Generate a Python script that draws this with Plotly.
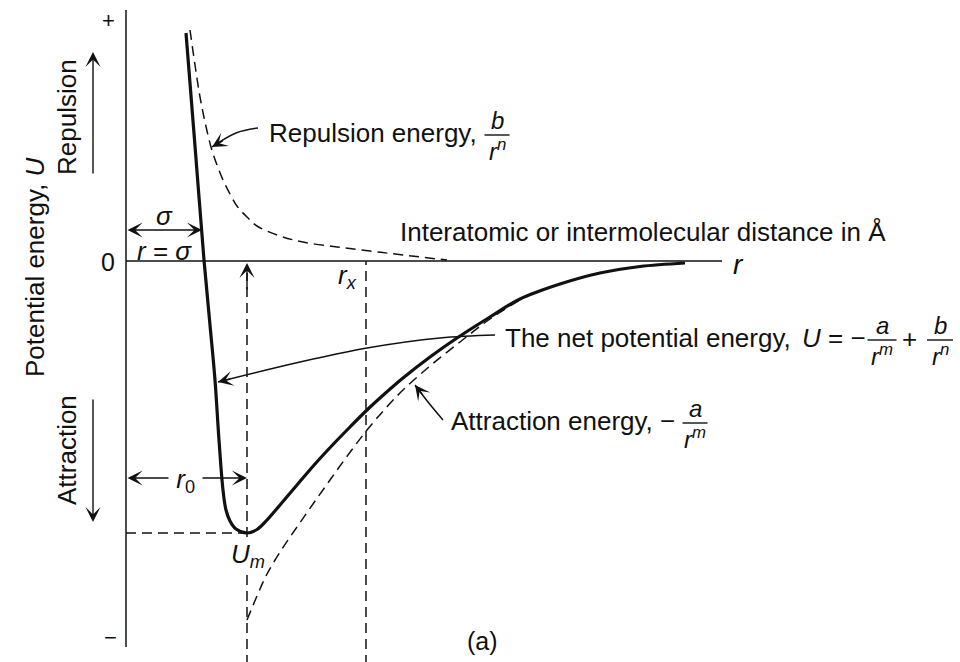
import math
import plotly.graph_objects as go

# ---- curves (r in arbitrary distance units, U in arbitrary energy units) ----
# net potential energy U = -a/r^m + b/r^n
r_net = [0.60, 0.69, 0.78, 0.84, 0.89, 0.93, 0.97, 1.00, 1.04, 1.10, 1.21, 1.31,
         1.41, 1.54, 1.71, 1.89, 2.07, 2.24, 2.41, 2.59, 2.77, 3.04, 3.31, 3.64,
         3.94, 4.34, 4.74, 5.14, 5.59]
u_net = [2.28, 1.15, 0.01, -0.64, -1.19, -1.79, -2.29, -2.49, -2.60, -2.68, -2.72, -2.685,
         -2.59, -2.44, -2.24, -2.03, -1.835, -1.66, -1.49, -1.325, -1.17, -0.96, -0.77, -0.56,
         -0.38, -0.23, -0.12, -0.055, -0.02]

# repulsion term b/r^n
r_rep = [0.64, 0.69, 0.74, 0.79, 0.85, 0.91, 0.97, 1.04, 1.11, 1.21, 1.31, 1.54,
         1.77, 2.11, 2.44, 2.77, 3.21]
u_rep = [2.31, 1.96, 1.64, 1.39, 1.14, 0.96, 0.81, 0.67, 0.55, 0.44, 0.35, 0.25,
         0.19, 0.14, 0.10, 0.06, 0.01]

# attraction term -a/r^m
r_att = [1.21, 1.31, 1.41, 1.56, 1.71, 1.87, 2.04, 2.22, 2.41, 2.59, 2.77, 3.04,
         3.34, 3.64, 3.94]
u_att = [-3.59, -3.35, -3.13, -2.88, -2.66, -2.43, -2.19, -1.94, -1.69, -1.48, -1.29, -1.05,
         -0.81, -0.58, -0.39]

# characteristic quantities
sigma = 0.76      # distance where U crosses zero
r0 = 1.21         # equilibrium spacing
u_min = -2.72     # minimum energy U_m
rx = 2.40         # marked distance r_x
r_end = 5.96      # end of the r axis
u_top, u_bot = 2.51, -3.86

# leader lines from the labels to the curves
lead_rep_x = [1.32, 1.10, 0.86]
lead_rep_y = [1.33, 1.28, 1.14]
lead_net_x = [3.69, 3.14, 2.41, 1.74, 0.92]
lead_net_y = [-0.74, -0.77, -0.87, -1.01, -1.21]
lead_att_x = [3.17, 3.02, 2.89]
lead_att_y = [-1.59, -1.41, -1.24]

BLACK = "#111111"
FONT = "Liberation Sans, Arial, Helvetica, sans-serif"
FS = 26
FS_FRAC = 24
DASH = "10px,6px"

fig = go.Figure()


def line(x, y, width=1.5, dash="solid", spline=False):
    fig.add_trace(go.Scatter(
        x=x, y=y, mode="lines", hoverinfo="skip", showlegend=False,
        line=dict(color=BLACK, width=width, dash=dash,
                  shape="spline" if spline else "linear", smoothing=1.0)))


# axes
line([0, 0], [u_bot, u_top])
line([0, r_end], [0, 0])

# guide lines
line([r0, r0], [-4.2, -0.12], dash=DASH)
line([rx, rx], [-4.2, 0], dash=DASH)
line([0, r0], [u_min, u_min], dash=DASH)

# component curves and net curve
line(r_rep, u_rep, dash=DASH, spline=True)
line(r_att, u_att, dash=DASH, spline=True)
line(r_net, u_net, width=3.2, spline=True)

# leader lines
leaders = [(lead_rep_x, lead_rep_y), (lead_net_x, lead_net_y), (lead_att_x, lead_att_y)]
for lx, ly in leaders:
    line(lx, ly, width=1.5, spline=True)

ann = []


def arrow(x, y, ax, ay, both=False):
    ann.append(dict(x=x, y=y, ax=ax, ay=ay, xref="x", yref="y", axref="x", ayref="y",
                    text="", showarrow=True, arrowhead=3, startarrowhead=3,
                    arrowsize=1.8, startarrowsize=1.8, arrowwidth=1.4,
                    arrowcolor=BLACK, standoff=0, startstandoff=0,
                    arrowside="end+start" if both else "end"))


def label(x, y, text, size=FS, xanchor="center", angle=0, bg=None):
    d = dict(x=x, y=y, xref="x", yref="y", text=text, showarrow=False,
             xanchor=xanchor, yanchor="middle", textangle=angle,
             font=dict(family=FONT, size=size, color=BLACK), borderpad=0)
    if bg:
        d["bgcolor"] = bg
    ann.append(d)


def fraction(xc, y_bar, num, den, half_width):
    label(xc, y_bar + 0.15, num, size=FS_FRAC)
    label(xc, y_bar - 0.15, den, size=FS_FRAC)
    shapes.append(dict(type="line", xref="x", yref="y",
                       x0=xc - half_width, x1=xc + half_width, y0=y_bar, y1=y_bar,
                       line=dict(color=BLACK, width=1.4)))


shapes = []

# arrowheads at the ends of the leader lines, aligned with the last segment
for lx, ly in leaders:
    tx, ty = lx[-1], ly[-1]
    dx, dy = lx[-2] - tx, ly[-2] - ty
    n = math.hypot(dx, dy)
    arrow(tx, ty, tx + 0.14 * dx / n, ty + 0.14 * dy / n)

# dimension arrows
arrow(sigma, 0.31, 0, 0.31, both=True)
arrow(r0, -2.17, 0, -2.17, both=True)
arrow(r0, -0.02, r0, -0.30)

# side arrows for repulsion / attraction
arrow(-0.33, 2.09, -0.33, 0.86)
arrow(-0.33, -2.61, -0.33, -1.37)

# axis marks
label(-0.18, 2.41, "+", size=22)
label(-0.18, -0.01, "0", size=25)
label(-0.16, -3.76, "\u2212", size=22)
label(-0.59, 1.44, "Repulsion", angle=-90)
label(-0.59, -1.89, "Attraction", angle=-90)
label(-0.91, -0.07, "Potential energy, <i>U</i>", angle=-90)
label(6.12, -0.03, "<i>r</i>", size=28)
label(5.17, 0.29, "Interatomic or intermolecular distance in \u00c5")

# symbols
label(0.38, 0.45, "<i>\u03c3</i>")
label(0.38, 0.10, "<i>r</i> = <i>\u03c3</i>")
label(2.21, -0.15, "<i>r</i><sub><i>x</i></sub>")
label(1.22, -2.94, "<i>U</i><sub><i>m</i></sub>", bg="white")
label(0.59, -2.19, " <i>r</i><sub>0</sub> ", bg="white")
label(3.56, -3.80, "(a)", size=25)

# repulsion label
label(1.42, 1.28, "Repulsion energy,", xanchor="left")
fraction(3.71, 1.26, "<i>b</i>", "<i>r<sup>n</sup></i>", 0.125)

# net energy label
label(3.78, -0.77, "The net potential energy,", xanchor="left")
label(6.75, -0.77, "<i>U</i> = \u2212", xanchor="left")
fraction(7.56, -0.79, "<i>a</i>", "<i>r<sup>m</sup></i>", 0.145)
label(7.83, -0.78, "+")
fraction(8.14, -0.79, "<i>b</i>", "<i>r<sup>n</sup></i>", 0.13)

# attraction label
label(3.24, -1.60, "Attraction energy, \u2212", xanchor="left")
fraction(5.69, -1.62, "<i>a</i>", "<i>r<sup>m</sup></i>", 0.125)

fig.update_layout(
    width=960, height=662, margin=dict(l=0, r=0, t=0, b=0),
    paper_bgcolor="white", plot_bgcolor="white",
    xaxis=dict(range=[-1.26, 8.34], visible=False, fixedrange=True),
    yaxis=dict(range=[-4.01, 2.61], visible=False, fixedrange=True),
    annotations=ann, shapes=shapes, hovermode=False, showlegend=False,
)

fig.write_html("out.html", config={"displayModeBar": False})
